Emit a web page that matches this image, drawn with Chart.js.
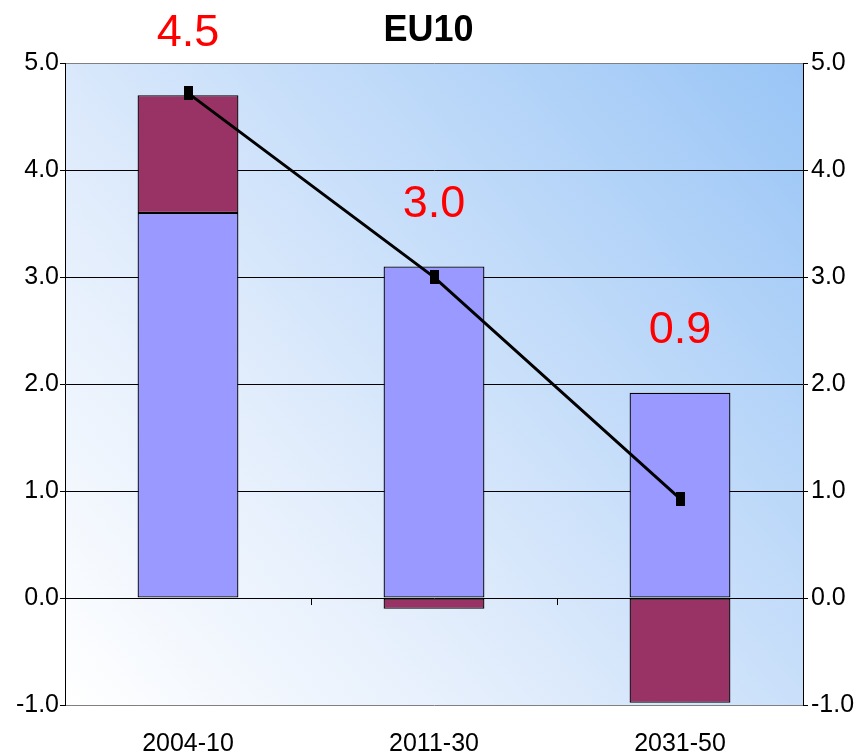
<!DOCTYPE html>
<html>
<head>
<meta charset="utf-8">
<script src="https://cdn.jsdelivr.net/npm/chart.js@4/dist/chart.umd.min.js"></script>
<style>
  html, body { margin: 0; padding: 0; background: #fff; }
  #wrap { width: 857px; height: 753px; }
</style>
</head>
<body>
<div id="wrap"><canvas id="barEU10" width="857" height="753"></canvas></div>
<script>
var periodos = ['2004-10', '2011-30', '2031-50'];
var serieAzul = [3.6, 3.1, 1.92];
var serieGranate = [1.1, -0.1, -0.98];
var totalLinea = [4.72, 3.0, 0.93];
var etiquetas = ['4.5', '3.0', '0.9'];
var yTicks = [-1, 0, 1, 2, 3, 4, 5];

Chart.defaults.font.family = "'Liberation Sans', Arial, sans-serif";
Chart.defaults.color = '#000';

// marcador rectangular (mas alto que ancho)
var marca = document.createElement('canvas');
marca.width = 9;
marca.height = 14;
var mctx = marca.getContext('2d');
mctx.fillStyle = '#000';
mctx.fillRect(0, 0, 9, 14);

var fondoPlugin = {
  id: 'fondo',
  beforeDraw: function(chart) {
    var a = chart.chartArea;
    var ctx = chart.ctx;
    var g = ctx.createLinearGradient(a.left, a.bottom, a.right, a.top);
    g.addColorStop(0, '#ffffff');
    g.addColorStop(0.35, '#e2edfc');
    g.addColorStop(1, '#99c5f6');
    ctx.save();
    ctx.fillStyle = g;
    ctx.fillRect(a.left, a.top, a.right - a.left, a.bottom - a.top);
    ctx.restore();
  }
};

var extrasPlugin = {
  id: 'extras',
  afterDatasetsDraw: function(chart) {
    var ctx = chart.ctx;
    var x = chart.scales.x;
    var y = chart.scales.y;
    var y0 = y.getPixelForValue(0);
    ctx.save();
    // marcas del eje de categorias en cero
    ctx.strokeStyle = '#000';
    ctx.lineWidth = 1;
    for (var i = 0; i < periodos.length - 1; i++) {
      var xm = Math.round((x.getPixelForValue(i) + x.getPixelForValue(i + 1)) / 2) + 0.5;
      ctx.beginPath();
      ctx.moveTo(xm, y0);
      ctx.lineTo(xm, y0 + 7);
      ctx.stroke();
    }
    // etiquetas rojas sobre las barras
    ctx.fillStyle = '#ff0000';
    ctx.font = "45px 'Liberation Sans', Arial, sans-serif";
    ctx.textAlign = 'center';
    ctx.textBaseline = 'middle';
    for (var j = 0; j < etiquetas.length; j++) {
      var tope = Math.max(serieAzul[j], 0) + Math.max(serieGranate[j], 0);
      ctx.fillText(etiquetas[j], x.getPixelForValue(j), y.getPixelForValue(tope) - 62);
    }
    ctx.restore();
  }
};

var ejeY = {
  min: -1,
  max: 5,
  afterBuildTicks: function(s) { s.ticks = yTicks.map(function(v) { return {value: v}; }); },
  ticks: {
    font: {size: 25},
    padding: 1,
    callback: function(v) { return Number(v).toFixed(1); }
  },
  border: {display: true, color: '#000', width: 1}
};

var barChart = new Chart(document.getElementById('barEU10').getContext('2d'), {
  type: 'bar',
  data: {
    labels: periodos,
    datasets: [
      {
        type: 'line',
        label: 'Total',
        data: totalLinea,
        borderColor: '#000',
        borderWidth: 3,
        pointStyle: marca,
        pointRadius: 6,
        fill: false,
        tension: 0,
        order: 0
      },
      {
        label: 'A',
        data: serieAzul,
        backgroundColor: '#9999ff',
        borderColor: '#000',
        borderWidth: 1.3,
        borderSkipped: false,
        order: 1
      },
      {
        label: 'B',
        data: serieGranate,
        backgroundColor: '#993366',
        borderColor: '#000',
        borderWidth: 1.3,
        borderSkipped: false,
        order: 1
      }
    ]
  },
  options: {
    responsive: false,
    animation: false,
    devicePixelRatio: 1,
    barPercentage: 0.41,
    categoryPercentage: 1,
    layout: {padding: {left: 0, right: 0, top: 0, bottom: 0}},
    plugins: {
      legend: {display: false},
      tooltip: {enabled: false},
      title: {
        display: true,
        text: 'EU10',
        color: '#000',
        font: {size: 36, weight: 'bold'},
        padding: {top: 9, bottom: 11}
      }
    },
    scales: {
      x: {
        stacked: true,
        grid: {display: false},
        border: {display: false},
        ticks: {font: {size: 25}, padding: 16, maxRotation: 0},
        afterFit: function(s) { s.height = 48; }
      },
      y: Object.assign({}, ejeY, {
        stacked: true,
        position: 'left',
        grid: {
          color: function(c) { return (c.tick.value === 5 || c.tick.value === -1) ? '#808080' : '#000'; },
          tickColor: '#000',
          tickLength: 5,
          lineWidth: 1
        },
        afterFit: function(s) { s.width = 65; }
      }),
      y2: Object.assign({}, ejeY, {
        position: 'right',
        ticks: {
          font: {size: 25},
          padding: 3,
          callback: function(v) { return Number(v).toFixed(1); }
        },
        grid: {drawOnChartArea: false, tickColor: '#000', tickLength: 5},
        afterFit: function(s) { s.width = 54; }
      })
    }
  },
  plugins: [fondoPlugin, extrasPlugin]
});
</script>
</body>
</html>
